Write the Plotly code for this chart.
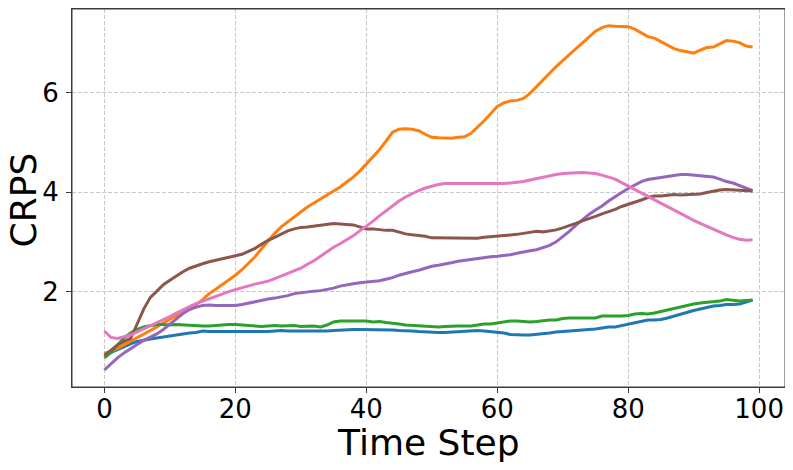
import plotly.graph_objects as go

time_steps = list(range(100))

series_blue = [0.72, 0.78, 0.83, 0.89, 0.95, 1.00, 1.03, 1.05, 1.07, 1.09,
               1.12, 1.14, 1.15, 1.17, 1.18, 1.21, 1.20, 1.20, 1.19, 1.19,
               1.19, 1.19, 1.20, 1.19, 1.19, 1.20, 1.21, 1.22, 1.21, 1.21,
               1.21, 1.21, 1.21, 1.20, 1.21, 1.22, 1.23, 1.23, 1.24, 1.24,
               1.24, 1.23, 1.23, 1.23, 1.23, 1.22, 1.22, 1.21, 1.20, 1.19,
               1.18, 1.18, 1.18, 1.19, 1.19, 1.20, 1.21, 1.22, 1.21, 1.20,
               1.19, 1.17, 1.14, 1.13, 1.13, 1.13, 1.14, 1.15, 1.17, 1.19,
               1.20, 1.21, 1.21, 1.22, 1.24, 1.25, 1.27, 1.29, 1.29, 1.32,
               1.34, 1.37, 1.40, 1.43, 1.43, 1.44, 1.47, 1.51, 1.55, 1.58,
               1.62, 1.65, 1.68, 1.71, 1.72, 1.74, 1.74, 1.75, 1.79, 1.83]

series_orange = [0.76, 0.80, 0.86, 0.93, 1.00, 1.07, 1.14, 1.22, 1.29, 1.37,
                 1.44, 1.52, 1.57, 1.65, 1.74, 1.84, 1.96, 2.05, 2.14, 2.24,
                 2.33, 2.44, 2.56, 2.70, 2.86, 3.02, 3.17, 3.30, 3.40, 3.50,
                 3.60, 3.70, 3.78, 3.86, 3.94, 4.02, 4.10, 4.20, 4.30, 4.42,
                 4.56, 4.70, 4.85, 5.02, 5.20, 5.26, 5.27, 5.26, 5.23, 5.16,
                 5.10, 5.09, 5.08, 5.08, 5.10, 5.11, 5.18, 5.30, 5.43, 5.57,
                 5.72, 5.79, 5.83, 5.84, 5.88, 5.98, 6.12, 6.26, 6.39, 6.52,
                 6.64, 6.76, 6.87, 6.98, 7.10, 7.23, 7.30, 7.34, 7.33, 7.32,
                 7.32, 7.27, 7.19, 7.12, 7.09, 7.02, 6.94, 6.88, 6.84, 6.82,
                 6.79, 6.85, 6.90, 6.91, 6.97, 7.04, 7.03, 7.00, 6.93, 6.91]

series_green = [0.67, 0.78, 0.93, 1.07, 1.17, 1.24, 1.29, 1.32, 1.34, 1.34,
                1.33, 1.34, 1.33, 1.32, 1.31, 1.31, 1.31, 1.32, 1.34, 1.34,
                1.34, 1.33, 1.32, 1.30, 1.30, 1.31, 1.32, 1.31, 1.32, 1.32,
                1.30, 1.30, 1.31, 1.29, 1.33, 1.39, 1.41, 1.41, 1.41, 1.40,
                1.41, 1.39, 1.40, 1.38, 1.37, 1.35, 1.33, 1.32, 1.31, 1.30,
                1.30, 1.29, 1.30, 1.31, 1.31, 1.31, 1.31, 1.33, 1.35, 1.35,
                1.37, 1.40, 1.41, 1.41, 1.40, 1.39, 1.40, 1.42, 1.43, 1.43,
                1.46, 1.47, 1.47, 1.47, 1.48, 1.47, 1.51, 1.51, 1.50, 1.51,
                1.52, 1.55, 1.56, 1.55, 1.57, 1.60, 1.63, 1.67, 1.70, 1.72,
                1.75, 1.77, 1.78, 1.80, 1.81, 1.84, 1.83, 1.81, 1.82, 1.83]

series_purple = [0.43, 0.56, 0.67, 0.77, 0.86, 0.94, 1.02, 1.09, 1.15, 1.24,
                 1.35, 1.46, 1.56, 1.64, 1.69, 1.72, 1.73, 1.72, 1.72, 1.72,
                 1.72, 1.74, 1.77, 1.80, 1.83, 1.85, 1.87, 1.89, 1.92, 1.96,
                 1.98, 2.00, 2.01, 2.02, 2.04, 2.07, 2.11, 2.14, 2.16, 2.18,
                 2.19, 2.20, 2.22, 2.25, 2.28, 2.33, 2.37, 2.40, 2.43, 2.47,
                 2.51, 2.53, 2.55, 2.58, 2.61, 2.63, 2.65, 2.67, 2.68, 2.70,
                 2.71, 2.72, 2.74, 2.77, 2.80, 2.82, 2.84, 2.88, 2.93, 3.00,
                 3.10, 3.21, 3.33, 3.45, 3.55, 3.64, 3.72, 3.82, 3.91, 3.99,
                 4.07, 4.14, 4.21, 4.25, 4.27, 4.28, 4.30, 4.33, 4.35, 4.35,
                 4.34, 4.33, 4.32, 4.30, 4.26, 4.21, 4.18, 4.13, 4.08, 4.03]

series_brown = [0.72, 0.83, 0.93, 1.00, 1.06, 1.35, 1.65, 1.88, 2.02, 2.14,
                2.23, 2.32, 2.40, 2.47, 2.52, 2.56, 2.60, 2.63, 2.65, 2.68,
                2.71, 2.75, 2.81, 2.87, 2.95, 3.03, 3.09, 3.16, 3.22, 3.26,
                3.29, 3.30, 3.32, 3.34, 3.36, 3.37, 3.36, 3.35, 3.34, 3.30,
                3.26, 3.26, 3.24, 3.23, 3.23, 3.19, 3.16, 3.14, 3.13, 3.11,
                3.08, 3.08, 3.08, 3.07, 3.08, 3.08, 3.07, 3.07, 3.09, 3.10,
                3.11, 3.12, 3.14, 3.15, 3.17, 3.19, 3.21, 3.20, 3.22, 3.24,
                3.28, 3.32, 3.37, 3.42, 3.46, 3.51, 3.56, 3.60, 3.65, 3.71,
                3.75, 3.79, 3.84, 3.89, 3.92, 3.92, 3.93, 3.95, 3.94, 3.95,
                3.95, 3.96, 3.99, 4.02, 4.04, 4.05, 4.04, 4.03, 4.03, 4.02]

series_pink = [1.21, 1.08, 1.06, 1.09, 1.13, 1.19, 1.25, 1.32, 1.38, 1.44,
               1.50, 1.57, 1.64, 1.70, 1.76, 1.81, 1.86, 1.91, 1.95, 2.00,
               2.04, 2.08, 2.12, 2.15, 2.18, 2.21, 2.26, 2.31, 2.36, 2.42,
               2.47, 2.55, 2.62, 2.71, 2.80, 2.89, 2.96, 3.04, 3.12, 3.22,
               3.31, 3.41, 3.52, 3.62, 3.72, 3.82, 3.90, 3.97, 4.03, 4.08,
               4.12, 4.15, 4.17, 4.17, 4.17, 4.17, 4.16, 4.16, 4.16, 4.16,
               4.16, 4.17, 4.18, 4.19, 4.21, 4.24, 4.27, 4.30, 4.33, 4.35,
               4.37, 4.38, 4.39, 4.39, 4.38, 4.37, 4.34, 4.30, 4.26, 4.19,
               4.12, 4.05, 3.98, 3.91, 3.84, 3.77, 3.71, 3.64, 3.57, 3.50,
               3.43, 3.37, 3.31, 3.25, 3.19, 3.14, 3.09, 3.05, 3.03, 3.04]

x_ticks = [0, 20, 40, 60, 80, 100]
y_ticks = [2, 4, 6]
x_title = "Time Step"
y_title = "CRPS"

series = [
    (series_blue, "#1f77b4"),
    (series_orange, "#ff7f0e"),
    (series_green, "#2ca02c"),
    (series_purple, "#9467bd"),
    (series_brown, "#8c564b"),
    (series_pink, "#e377c2"),
]

fig = go.Figure()
for vals, col in series:
    fig.add_trace(go.Scatter(x=time_steps, y=vals, mode="lines",
                             line=dict(color=col, width=3), showlegend=False))

frame_color = "#3a3a3a"
axis_common = dict(
    showline=True, linecolor=frame_color, linewidth=1, mirror=True,
    ticks="outside", ticklen=5, tickwidth=1, tickcolor=frame_color,
    showgrid=True, gridcolor="#c8c8c8", gridwidth=1, griddash="4px,2px",
    zeroline=False, tickfont=dict(size=26, color="black"),
    automargin=False,
)

# the page body adds an 8px offset; the figure is sized to compensate
fig.update_layout(
    width=777, height=454,
    margin=dict(l=64, r=0, t=1, b=75),
    paper_bgcolor="white", plot_bgcolor="white",
    font=dict(family="DejaVu Sans", color="black"),
    xaxis=dict(range=[-4.95, 103.95], tickvals=x_ticks,
               ticklabelstandoff=-6, **axis_common),
    yaxis=dict(range=[0.085, 7.675], tickvals=y_ticks,
               ticklabelstandoff=2, **axis_common),
    shapes=[dict(type="rect", xref="paper", yref="paper", x0=0, x1=1,
                 y0=0, y1=1, line=dict(color=frame_color, width=1),
                 layer="above")],
    annotations=[
        dict(text=x_title, xref="paper", yref="paper", x=0.5, y=-0.148,
             xanchor="center", yanchor="middle", showarrow=False,
             font=dict(size=36, color="black")),
        dict(text=y_title, xref="paper", yref="paper", x=-0.0675, y=0.496,
             xanchor="center", yanchor="middle", textangle=-90,
             showarrow=False, font=dict(size=36, color="black")),
    ],
)

fig.write_html("out.html")
